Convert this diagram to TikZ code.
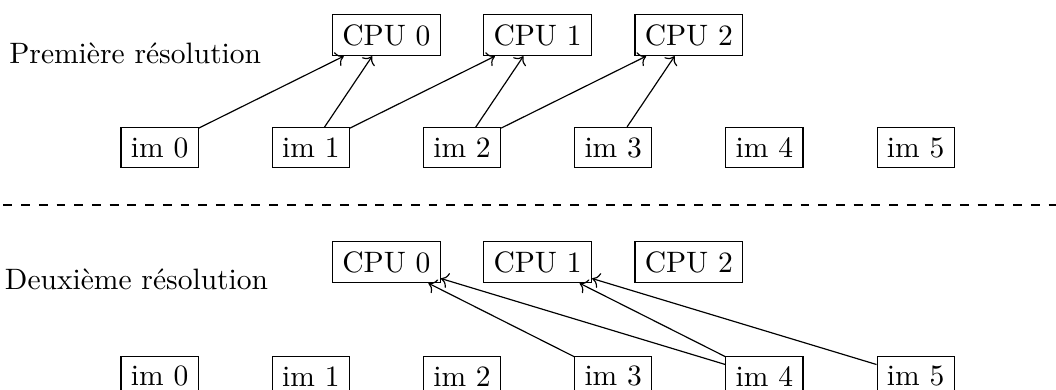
\documentclass[tikz,border=0pt]{standalone}
\usepackage{tikz}
\usetikzlibrary{arrows.meta}

\begin{document}
\begin{tikzpicture}[
    box/.style={draw, rectangle},
    lien/.style={->}
  ]
  \useasboundingbox (0,0) rectangle (12.571,-4.631);
  % premiere resolution
  \node (titreA) at (1.61,-0.64) {Première résolution};
  \foreach \i in {0,1,2} {
    \node[box] (cpu\i) at (4.6+1.8*\i,-0.417) {CPU \i};
  }
  \foreach \i in {0,...,5} {
    \node[box] (im\i) at (1.9+1.8*\i,-1.756) {im \i};
  }
  \draw[lien] (im0) -- (cpu0);
  \draw[lien] (im1) -- (cpu0);
  \draw[lien] (im1) -- (cpu1);
  \draw[lien] (im2) -- (cpu1);
  \draw[lien] (im2) -- (cpu2);
  \draw[lien] (im3) -- (cpu2);

  \coordinate (sepG) at (0.04,-2.44);
  \coordinate (sepD) at (12.6,-2.44);
  \draw[dashed] (sepG) -- (sepD);

  % deuxieme resolution
  \node (titreB) at (1.625,-3.33) {Deuxième résolution};
  \foreach \i in {0,1,2} {
    \node[box] (cpub\i) at (4.6+1.8*\i,-3.12) {CPU \i};
  }
  \foreach \i in {0,...,5} {
    \node[box] (imb\i) at (1.9+1.8*\i,-4.48) {im \i};
  }
  \draw[lien] (imb3) -- (cpub0);
  \draw[lien] (imb4) -- (cpub0);
  \draw[lien] (imb4) -- (cpub1);
  \draw[lien] (imb5) -- (cpub1);
\end{tikzpicture}
\end{document}
